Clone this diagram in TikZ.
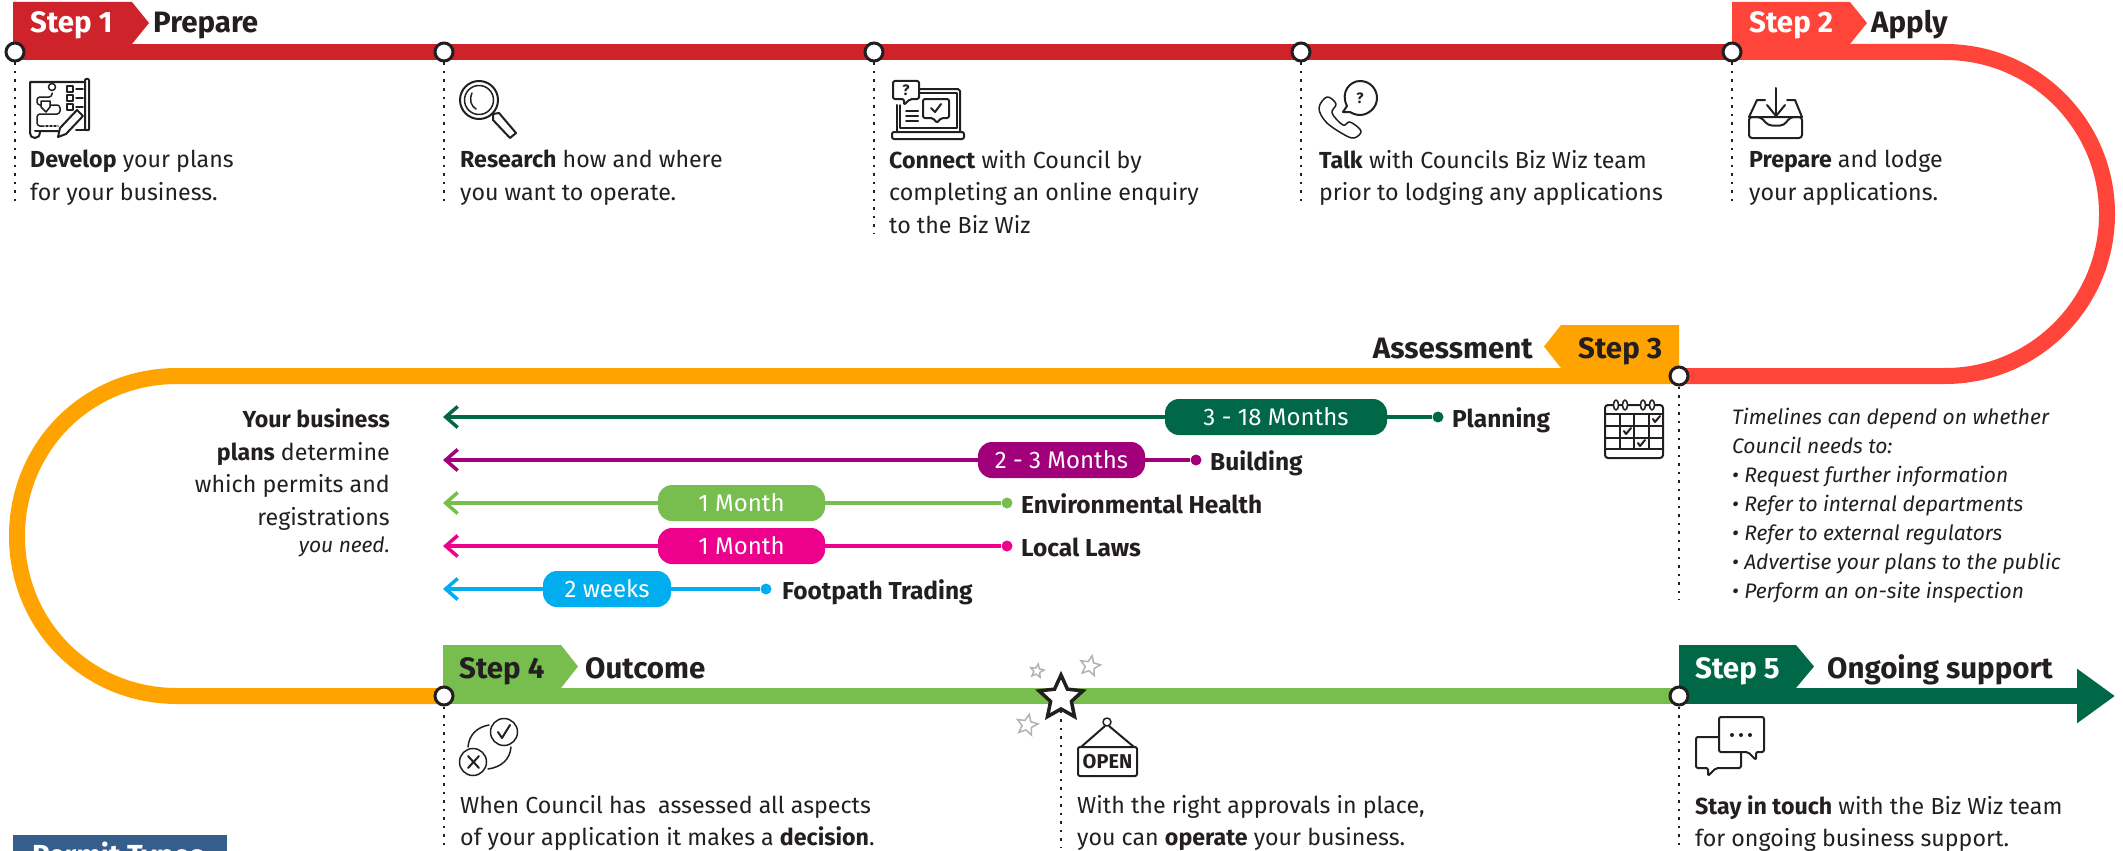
\documentclass[tikz,border=0pt]{standalone}
\usepackage{fontspec}
\setmainfont{Fira Sans}
\usetikzlibrary{shapes.geometric,arrows.meta,backgrounds}

\definecolor{inkc}{HTML}{231F20}
\definecolor{redc}{HTML}{CF232B}
\definecolor{lightredc}{HTML}{FF453A}
\definecolor{orangec}{HTML}{FFA300}
\definecolor{greenc}{HTML}{78BE4F}
\definecolor{darkgreenc}{HTML}{006747}
\definecolor{purplec}{HTML}{A2007A}
\definecolor{magentac}{HTML}{EC008C}
\definecolor{cyanc}{HTML}{00AEEF}
\definecolor{bluec}{HTML}{355E8C}

\tikzset{
	band/.style={line width=16pt},
	stopdot/.style={circle,draw=inkc,fill=white,line width=3pt,minimum size=18pt,inner sep=0pt},
	dotline/.style={draw=inkc,line width=2.5pt,dash pattern=on 2.5pt off 6pt},
	steptext/.style={anchor=base west,inner sep=0pt,font=\fontsize{29.5}{32}\selectfont\bfseries},
	body/.style={anchor=north west,inner sep=0pt,align=left,text=inkc,font=\fontsize{23.2}{32.5}\selectfont,execute at begin node=\strut},
	note/.style={anchor=north west,inner sep=0pt,align=left,text=inkc,font=\fontsize{21}{29}\selectfont\itshape,execute at begin node=\strut},
	rowline/.style={line width=3.5pt,>={Straight Barb[length=12pt,width=21pt]}},
	rowdot/.style={circle,fill,minimum size=11pt,inner sep=0pt},
	rowlabel/.style={anchor=base west,inner sep=0pt,text=inkc,font=\fontsize{24.5}{28}\selectfont\bfseries},
	pill/.style={rounded corners=14pt,minimum height=36pt,inner sep=0pt,text=white,font=\fontsize{24}{28}\selectfont},
	icon/.style={draw=inkc,line width=2pt,line join=round,line cap=round},
	smallstar/.style={star,star points=5,star point ratio=2.2,draw=black!30,fill=white,line width=1.5pt,inner sep=0pt}
}

\begin{document}
\begin{tikzpicture}[x=1pt,y=-1pt]
	\clip (0,0) rectangle (2123,851);

	% stops on the line
	\node[stopdot] (s1) at (15,52) {};
	\node[stopdot] (s2) at (444,52) {};
	\node[stopdot] (s3) at (874,52) {};
	\node[stopdot] (s4) at (1301,52) {};
	\node[stopdot] (s5) at (1732,52) {};
	\node[stopdot] (s6) at (1679,376) {};
	\node[stopdot] (s7) at (444,696) {};
	\node[stopdot] (s8) at (1679,696) {};
	\node[star,star points=5,star point ratio=2.1,draw=inkc,fill=white,line width=3.5pt,minimum size=46pt,inner sep=0pt] (s9) at (1061,698) {};
	\coordinate (tip) at (2115,696);

	% free ends of the dotted lines
	\coordinate (e1) at (15,203);
	\coordinate (e2) at (444,203);
	\coordinate (e3) at (874,234);
	\coordinate (e4) at (1301,203);
	\coordinate (e5) at (1732,203);
	\coordinate (e6) at (1679,600);
	\coordinate (e7) at (444,848);
	\coordinate (e8) at (1679,848);
	\coordinate (e9) at (1061,848);

	% row nodes
	\node[pill,fill=darkgreenc,minimum width=222pt] (p1) at (1276,417) {3 - 18 Months};
	\node[pill,fill=purplec,minimum width=167pt] (p2) at (1061.5,460) {2 - 3 Months};
	\node[pill,fill=greenc,minimum width=167pt] (p3) at (741.5,503) {1 Month};
	\node[pill,fill=magentac,minimum width=167pt] (p4) at (741.5,546) {1 Month};
	\node[pill,fill=cyanc,minimum width=128pt] (p5) at (607,589) {2 weeks};
	\node[rowdot,fill=darkgreenc] (d1) at (1438,417) {};
	\node[rowdot,fill=purplec] (d2) at (1196,460) {};
	\node[rowdot,fill=greenc] (d3) at (1007,503) {};
	\node[rowdot,fill=magentac] (d4) at (1007,546) {};
	\node[rowdot,fill=cyanc] (d5) at (766,589) {};
	\coordinate (a1) at (443,417);
	\coordinate (a2) at (443,460);
	\coordinate (a3) at (443,503);
	\coordinate (a4) at (443,546);
	\coordinate (a5) at (443,589);

	\begin{pgfonlayer}{background}
		\draw[band,redc] (s1.center) -- (s5.center);
		\draw[band,lightredc] (s5.center) -- (1945,52) .. controls (2034.5,52) and (2107,124.5) .. (2107,214) .. controls (2107,303.5) and (2034.5,376) .. (1945,376) -- (s6.center);
		\draw[band,orangec] (s6.center) -- (177,376) .. controls (87.5,376) and (17,446.5) .. (17,536) .. controls (17,625.5) and (87.5,696) .. (177,696) -- (s7.center);
		\draw[band,greenc] (s7.center) -- (s8.center);
		\draw[band,darkgreenc,-{Triangle[length=38pt,width=52pt]}] (s8.center) -- (tip);

		\fill[redc] (13,2) -- (132,2) -- (149,23) -- (132,44) -- (13,44) -- cycle;
		\fill[lightredc] (1732,2) -- (1850,2) -- (1867,23) -- (1850,44) -- (1732,44) -- cycle;
		\fill[orangec] (1679,325) -- (1561,325) -- (1544,346.5) -- (1561,368) -- (1679,368) -- cycle;
		\fill[greenc] (443,645) -- (561,645) -- (578,666.5) -- (561,688) -- (443,688) -- cycle;
		\fill[darkgreenc] (1679,645) -- (1796,645) -- (1814,666.5) -- (1796,688) -- (1679,688) -- cycle;

		\foreach \i in {1,...,9}
			\draw[dotline] (s\i.south) -- (e\i);

		\draw[->,rowline,darkgreenc] (d1) -- (a1);
		\draw[->,rowline,purplec] (d2) -- (a2);
		\draw[->,rowline,greenc] (d3) -- (a3);
		\draw[->,rowline,magentac] (d4) -- (a4);
		\draw[->,rowline,cyanc] (d5) -- (a5);
	\end{pgfonlayer}

	% little stars
	\node[smallstar,minimum size=14pt,rotate=-10] (star1) at (1037,671) {};
	\node[smallstar,minimum size=21pt,rotate=-12] (star2) at (1090,666) {};
	\node[smallstar,minimum size=22pt,rotate=-12] (star3) at (1027,725) {};

	% headings
	\node[steptext,text=white] (h1) at (30,33) {Step 1};
	\node[steptext,text=inkc] (h1b) at (153,33) {Prepare};
	\node[steptext,text=white] (h2) at (1749,33) {Step 2};
	\node[steptext,text=inkc] (h2b) at (1871,33) {Apply};
	\node[steptext,text=inkc] (h3) at (1578,358) {Step 3};
	\node[steptext,text=inkc,anchor=base east] (h3b) at (1533,358) {Assessment};
	\node[steptext,text=inkc] (h4) at (459,678) {Step 4};
	\node[steptext,text=inkc] (h4b) at (585,678) {Outcome};
	\node[steptext,text=white] (h5) at (1695,678) {Step 5};
	\node[steptext,text=inkc] (h5b) at (1827,678) {Ongoing support};

	% texts under the stops
	\node[body] (t1) at (30,150) {\textbf{Develop} your plans\\for your business.};
	\node[body] (t2) at (460,150) {\textbf{Research} how and where\\you want to operate.};
	\node[body] (t3) at (889,150) {\textbf{Connect} with Council by\\completing an online enquiry\\to the Biz Wiz};
	\node[body] (t4) at (1319,150) {\textbf{Talk} with Councils Biz Wiz team\\prior to lodging any applications};
	\node[body] (t5) at (1749,150) {\textbf{Prepare} and lodge\\your applications.};
	\node[body] (t6) at (460,795) {When Council has\ \ assessed all aspects\\of your application it makes a \textbf{decision}.};
	\node[body] (t7) at (1077,795) {With the right approvals in place,\\you can \textbf{operate} your business.};
	\node[body] (t8) at (1695,795) {\textbf{Stay in touch} with the Biz Wiz team\\for ongoing business support.};
	\node[body,anchor=north east,align=right] (t9) at (390,408.5) {\textbf{Your business}\\\textbf{plans} determine\\which permits and\\registrations\\[-5pt]{\fontsize{21}{28}\selectfont\textit{you need.}}};
	\node[note] (t10) at (1732,407.7) {Timelines can depend on whether\\Council needs to:\\• Request further information\\• Refer to internal departments\\• Refer to external regulators\\• Advertise your plans to the public\\• Perform an on-site inspection};

	% row labels
	\node[rowlabel] (l1) at (1452,427) {Planning};
	\node[rowlabel] (l2) at (1210,470) {Building};
	\node[rowlabel] (l3) at (1021,513) {Environmental Health};
	\node[rowlabel] (l4) at (1021,556) {Local Laws};
	\node[rowlabel] (l5) at (782,599) {Footpath Trading};

	% cut off box
	\fill[bluec] (13,835) rectangle (227,851);
	\node[anchor=base west,inner sep=0pt,text=white,font=\fontsize{29}{32}\selectfont\bfseries] (box) at (32,865) {Permit Types};

	% plans icon
	\draw[icon] (85,82) -- (30,82) -- (30,133) .. controls (30,136) and (32,138) .. (35,138) .. controls (38,138) and (40,136) .. (40,131) -- (58,131);
	\draw[icon] (35,131) -- (40,131);
	\draw[icon,rounded corners=1pt] (85,79) rectangle (89,130);
	\draw[icon] (89,130) -- (76,130);
	\draw[icon,line width=1.5pt] (52,87) circle (3.5);
	\draw[icon,line width=1.5pt,rounded corners=3pt] (52,93) -- (52,97) -- (37,97) -- (37,105) -- (41,105);
	\draw[icon,line width=1.5pt] (41,101) -- (50,101) -- (50,107) -- (46,112) -- (41,107) -- cycle;
	\draw[icon,line width=1.5pt,rounded corners=3pt] (50,105) -- (60,105) -- (60,114) -- (37,114) -- (37,126) -- (44,126);
	\draw[icon,line width=1.5pt,dash pattern=on 2pt off 2pt] (46,126) -- (58,126);
	\foreach \y in {89,98,107} {
		\draw[icon,line width=1.5pt] (67,\y-3) rectangle (73,\y+3);
		\draw[icon,line width=1.5pt] (76,\y) -- (83,\y);
	}
	\draw[icon,fill=white] (58,137) -- (60,128) -- (77,110) -- (83,116) -- (66,134) -- cycle;

	% magnifier icon
	\draw[icon] (479,100) circle (19);
	\draw[icon,line width=1.5pt] (479,100) circle (14.5);
	\draw[icon,line width=1.5pt] (472,93) .. controls (469,100) and (471,106) .. (476,109);
	\draw[icon] (493,114) -- (499,113) -- (516,133) -- (510,138) -- (493,120) -- cycle;

	% laptop icon
	\draw[icon,rounded corners=2pt] (892,132) rectangle (964,139);
	\draw[icon] (920,89) -- (958,89) -- (960,91) -- (960,132);
	\draw[icon] (896.5,105) -- (896.5,132);
	\draw[icon,line width=1.5pt] (920,93) -- (957,93) -- (957,128) -- (900,128) -- (900,105);
	\draw[icon,rounded corners=2pt,fill=white] (893,81) -- (919,81) -- (919,99) -- (910,99) -- (904,105) -- (904,99) -- (893,99) -- cycle;
	\node[inner sep=0pt,text=inkc,font=\fontsize{15}{16}\selectfont\bfseries] (q1) at (906,90) {?};
	\draw[icon,rounded corners=2pt,fill=white] (923,99) -- (949,99) -- (949,118) -- (941,118) -- (937,123) -- (933,118) -- (923,118) -- cycle;
	\draw[icon] (931,108) -- (935,112) -- (941,104);
	\foreach \y in {111,116,121}
		\draw[icon] (906,\y) -- (918,\y);

	% phone icon
	\draw[icon] (1343,112) -- (1347,106) .. controls (1340,92) and (1350,81) .. (1360,81) .. controls (1370,81) and (1377,89) .. (1377,98) .. controls (1377,108) and (1368,115) .. (1360,115) .. controls (1355,115) and (1352,113) .. (1350,112) -- cycle;
	\node[inner sep=0pt,text=inkc,font=\fontsize{15}{16}\selectfont\bfseries] (q2) at (1360,98) {?};
	\draw[icon,line width=1.5pt] plot[smooth cycle,tension=0.6] coordinates {(1327,97) (1319,108) (1326,122) (1343,134) (1354,138) (1361,131) (1350,122) (1343,125) (1332,113) (1336,104)};

	% inbox icon
	\draw[icon] (1776,88) -- (1776,116);
	\draw[icon] (1767,105) -- (1776,116) -- (1785,105);
	\draw[icon] (1765,100) -- (1757,100) -- (1749,117);
	\draw[icon] (1787,100) -- (1795,100) -- (1802,117);
	\draw[icon,rounded corners=3pt] (1749,117) rectangle (1802,138);
	\draw[icon,rounded corners=4pt] (1749,117) -- (1761,117) -- (1768,125.5) -- (1784,125.5) -- (1790,117) -- (1802,117);

	% calendar icon
	\draw[icon,rounded corners=3pt] (1605,405) rectangle (1663,458);
	\foreach \x in {1620,1634,1649}
		\draw[icon,line width=1.5pt] (\x,414) -- (\x,449);
	\foreach \y in {414,426,438,449}
		\draw[icon,line width=1.5pt] (1605,\y) -- (1663,\y);
	\foreach \x in {1616,1625,1643,1652}
		\draw[icon,line width=1.5pt,fill=white] (\x,405) ellipse (2.5 and 5);
	\foreach \x/\y in {1656/419,1627/431,1641/443}
		\draw[icon] (\x-3,\y) -- (\x-1,\y+3) -- (\x+4,\y-3);

	% decision icon
	\draw[icon,line width=1.5pt] (504,732) circle (13.5);
	\draw[icon,line width=1.5pt] (473,762) circle (13.5);
	\draw[icon] (498,732) -- (502,738) -- (510,725);
	\draw[icon] (468,756) -- (479,768);
	\draw[icon] (479,756) -- (468,768);
	\draw[icon,line width=1.5pt] (489,725) .. controls (477,727) and (469,735) .. (468,747);
	\draw[icon,line width=1.5pt] (511,747) .. controls (510,759) and (502,767) .. (488,769);

	% open sign icon
	\draw[icon,line width=1.5pt] (1107,722) circle (4);
	\draw[icon] (1105,726) -- (1081,747);
	\draw[icon] (1109,726) -- (1134,747);
	\draw[icon,rounded corners=2pt] (1078,747) rectangle (1137,776);
	\node[inner sep=0pt,text=inkc,font=\fontsize{20}{20}\selectfont\bfseries] (opentext) at (1107.5,761.5) {OPEN};

	% chat icon
	\draw[icon,rounded corners=2pt] (1719,737) -- (1696,737) -- (1696,768) -- (1708,768) -- (1708,776) -- (1716,768) -- (1741,768) -- (1741,752);
	\draw[icon,rounded corners=2pt,fill=white] (1719,717) -- (1764,717) -- (1764,752) -- (1756,752) -- (1756,760) -- (1748,752) -- (1719,752) -- cycle;
	\foreach \x in {1732,1741,1750}
		\fill[inkc] (\x,735) circle (2);
\end{tikzpicture}
\end{document}
